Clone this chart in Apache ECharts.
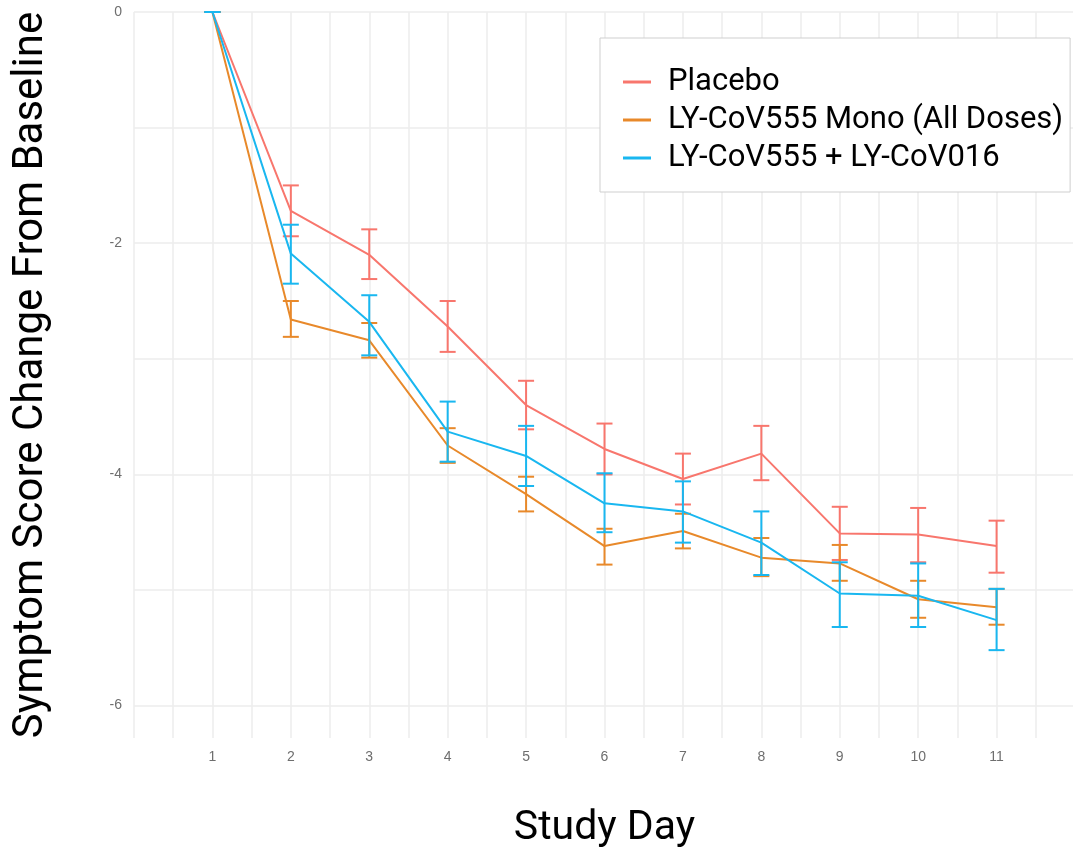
<!DOCTYPE html>
<html>
<head>
<meta charset="utf-8">
<script src="https://cdn.jsdelivr.net/npm/echarts@6/dist/echarts.min.js"></script>
<style>
  html, body { margin: 0; padding: 0; background: #ffffff; }
  #chart { width: 1073px; height: 848px; }
</style>
</head>
<body>
<div id="chart"></div>
<script>
// ---- data ----
const days = [1, 2, 3, 4, 5, 6, 7, 8, 9, 10, 11];
const seriesNames = ['Placebo', 'LY-CoV555 Mono (All Doses)', 'LY-CoV555 + LY-CoV016'];

const placeboMean = [0, -1.72, -2.10, -2.72, -3.40, -3.78, -4.04, -3.82, -4.51, -4.52, -4.62];
const placeboHigh = [0, -1.50, -1.88, -2.50, -3.19, -3.56, -3.82, -3.58, -4.28, -4.29, -4.40];
const placeboLow  = [0, -1.94, -2.31, -2.94, -3.61, -4.00, -4.26, -4.05, -4.74, -4.76, -4.85];

const monoMean = [0, -2.66, -2.84, -3.75, -4.17, -4.62, -4.49, -4.72, -4.77, -5.08, -5.15];
const monoHigh = [0, -2.50, -2.69, -3.60, -4.02, -4.47, -4.34, -4.55, -4.61, -4.92, -4.99];
const monoLow  = [0, -2.81, -2.99, -3.90, -4.32, -4.78, -4.64, -4.88, -4.92, -5.24, -5.30];

const comboMean = [0, -2.09, -2.68, -3.63, -3.84, -4.25, -4.32, -4.59, -5.03, -5.05, -5.26];
const comboHigh = [0, -1.84, -2.45, -3.37, -3.58, -3.99, -4.06, -4.32, -4.76, -4.77, -4.99];
const comboLow  = [0, -2.35, -2.97, -3.89, -4.10, -4.50, -4.59, -4.87, -5.32, -5.32, -5.52];

const xTickLabels = [1, 2, 3, 4, 5, 6, 7, 8, 9, 10, 11];
const xGridValues = [0, 0.5, 1, 1.5, 2, 2.5, 3, 3.5, 4, 4.5, 5, 5.5, 6, 6.5, 7, 7.5, 8, 8.5, 9, 9.5, 10, 10.5, 11, 11.5, 12];
const yTickLabels = [-6, -4, -2, 0];
const yGridValues = [-6, -5, -4, -3, -2, -1, 0];

const colors = ['#F8766D', '#E8892A', '#19B7F0'];

// ---- build ----
function pairs(ys) { return days.map((d, i) => [d, ys[i]]); }
function bars(lo, hi) { return days.map((d, i) => [d, lo[i], hi[i]]); }

function errorBarRender(color) {
  return function (params, api) {
    const x = api.value(0);
    const lo = api.coord([x, api.value(1)]);
    const hi = api.coord([x, api.value(2)]);
    const hw = 8;
    const style = { stroke: color, lineWidth: 2, fill: null };
    return {
      type: 'group',
      children: [
        { type: 'line', shape: { x1: lo[0], y1: lo[1], x2: hi[0], y2: hi[1] }, style: style },
        { type: 'line', shape: { x1: lo[0] - hw, y1: lo[1], x2: lo[0] + hw, y2: lo[1] }, style: style },
        { type: 'line', shape: { x1: hi[0] - hw, y1: hi[1], x2: hi[0] + hw, y2: hi[1] }, style: style }
      ]
    };
  };
}

const means = [placeboMean, monoMean, comboMean];
const lows = [placeboLow, monoLow, comboLow];
const highs = [placeboHigh, monoHigh, comboHigh];

const series = [];
for (let k = 0; k < 3; k++) {
  series.push({
    name: seriesNames[k],
    type: 'line',
    data: pairs(means[k]),
    showSymbol: false,
    symbol: 'none',
    lineStyle: { color: colors[k], width: 2 },
    itemStyle: { color: colors[k] },
    z: 3 + k * 2,
    animation: false
  });
  series.push({
    name: seriesNames[k] + ' err',
    type: 'custom',
    data: bars(lows[k], highs[k]),
    renderItem: errorBarRender(colors[k]),
    encode: { x: 0, y: [1, 2] },
    z: 4 + k * 2,
    animation: false,
    silent: true
  });
}

const chart = echarts.init(document.getElementById('chart'), null, { renderer: 'canvas' });
chart.setOption({
  animation: false,
  backgroundColor: '#ffffff',
  grid: { left: 134, top: 12, width: 941, height: 726, containLabel: false, outerBoundsMode: 'none' },
  xAxis: {
    type: 'value',
    min: 0,
    max: 12,
    name: 'Study Day',
    nameLocation: 'middle',
    nameGap: 70,
    nameTextStyle: { fontFamily: 'Roboto', fontSize: 41, color: '#000000' },
    axisLine: { show: false },
    axisTick: { show: false, customValues: xGridValues },
    axisLabel: { customValues: xTickLabels, color: '#6e6e6e', fontSize: 14, fontFamily: 'Liberation Sans', margin: 12 },
    splitLine: { show: true, lineStyle: { color: '#ececec', width: 1.5 } }
  },
  yAxis: {
    type: 'value',
    min: -6.28,
    max: 0,
    name: 'Symptom Score Change From Baseline',
    nameLocation: 'middle',
    nameGap: 82,
    nameRotate: 90,
    nameTextStyle: { fontFamily: 'Roboto', fontSize: 42, color: '#000000' },
    axisLine: { show: false },
    axisTick: { show: false, customValues: yGridValues },
    axisLabel: { customValues: yTickLabels, color: '#6e6e6e', fontSize: 14, fontFamily: 'Liberation Sans', margin: 12 },
    splitLine: { show: true, lineStyle: { color: '#ececec', width: 1.5 } }
  },
  legend: {
    data: seriesNames,
    orient: 'vertical',
    left: 600,
    top: 38,
    padding: [25, 7, 15, 23],
    itemGap: 0,
    itemWidth: 28,
    itemHeight: 3,
    icon: 'rect',
    backgroundColor: '#ffffff',
    borderColor: '#cfcfcf',
    borderWidth: 1,
    borderRadius: 0,
    textStyle: { fontFamily: 'Roboto', fontSize: 31, color: '#000000', lineHeight: 38, padding: [0, 0, 0, 12] },
    selectedMode: false
  },
  series: series
});
</script>
</body>
</html>
